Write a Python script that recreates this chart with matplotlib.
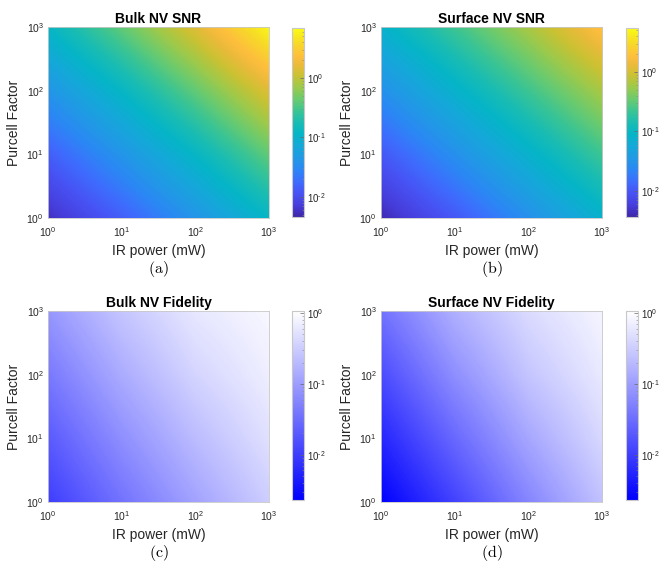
import numpy as np
import matplotlib
matplotlib.use("Agg")
import matplotlib.pyplot as plt
from matplotlib.colors import LinearSegmentedColormap
from matplotlib.ticker import FixedLocator, FixedFormatter

plt.rcParams['font.family'] = ['Liberation Sans', 'DejaVu Sans']
plt.rcParams['mathtext.fontset'] = 'custom'
plt.rcParams['mathtext.rm'] = 'Liberation Sans'
plt.rcParams['mathtext.it'] = 'Liberation Sans:italic'
plt.rcParams['mathtext.bf'] = 'Liberation Sans:bold'

# ---- data (log10 of values at decade grid points) ----
ir_power_exp = [0, 1, 2, 3]          # IR power 10^0 .. 10^3 mW
purcell_exp = [0, 1, 2, 3]           # Purcell factor 10^0 .. 10^3
# rows: Purcell 1,10,100,1000 ; cols: IR power 1,10,100,1000
bulk_snr_log = [[-2.25, -1.85, -1.40, -0.92],
                [-1.85, -1.40, -0.92, -0.40],
                [-1.40, -0.92, -0.40, 0.15],
                [-0.92, -0.40, 0.15, 0.80]]
surface_snr_log = [[-2.40, -2.00, -1.55, -1.10],
                   [-2.00, -1.55, -1.10, -0.65],
                   [-1.55, -1.10, -0.65, -0.20],
                   [-1.10, -0.65, -0.20, 0.30]]
bulk_fid_log = [[-2.00, -1.45, -0.95, -0.50],
                [-1.70, -1.15, -0.68, -0.30],
                [-1.38, -0.85, -0.42, -0.15],
                [-1.07, -0.58, -0.22, -0.05]]
surface_fid_log = [[-2.64, -1.95, -1.25, -0.62],
                   [-2.25, -1.55, -0.90, -0.38],
                   [-1.85, -1.15, -0.58, -0.20],
                   [-1.45, -0.80, -0.35, -0.08]]
cbar_limits = {'a': (-2.34, 0.84), 'b': (-2.44, 0.74), 'c': (-2.64, 0.03), 'd': (-2.64, 0.03)}
titles = ['Bulk NV SNR', 'Surface NV SNR', 'Bulk NV Fidelity', 'Surface NV Fidelity']
panel_labels = ['a', 'b', 'c', 'd']
cbar_ticks = [-2, -1, 0]

parula_anchors = [
    (0.000, (0.2422, 0.1504, 0.6603)),
    (0.060, (0.2760, 0.2400, 0.8600)),
    (0.125, (0.2810, 0.3228, 0.9579)),
    (0.190, (0.2400, 0.4300, 0.9950)),
    (0.250, (0.1700, 0.5300, 0.9600)),
    (0.310, (0.1300, 0.6000, 0.9000)),
    (0.375, (0.0800, 0.6600, 0.8500)),
    (0.440, (0.0200, 0.7100, 0.7800)),
    (0.500, (0.1000, 0.7400, 0.7000)),
    (0.560, (0.2300, 0.7700, 0.5800)),
    (0.625, (0.4200, 0.7950, 0.4300)),
    (0.690, (0.6200, 0.7900, 0.2900)),
    (0.750, (0.7900, 0.7600, 0.2000)),
    (0.810, (0.9300, 0.7300, 0.2300)),
    (0.850, (0.9950, 0.7450, 0.2400)),
    (0.920, (0.9700, 0.8500, 0.1600)),
    (1.000, (0.9769, 0.9839, 0.0805)),
]
parula = LinearSegmentedColormap.from_list('parula', parula_anchors, N=256)
bluewhite = LinearSegmentedColormap.from_list('bw', [(0, 0, 1), (1, 1, 1)], N=256)


def sup_label(k):
    s = str(k).replace('-', '\u2010')
    return r'$10^{%s}$' % s


W, H = 659, 568
fig = plt.figure(figsize=(W / 100, H / 100), dpi=100)

ax_px = {'a': (48, 27), 'b': (381, 27), 'c': (48, 311), 'd': (381, 311)}
cb_px = {'a': (292, 28), 'b': (626, 28), 'c': (292, 311), 'd': (626, 311)}
ax_w, ax_h = 221, 191
cb_w, cb_h = 12, 189

datasets = [bulk_snr_log, surface_snr_log, bulk_fid_log, surface_fid_log]
cmaps = [parula, parula, bluewhite, bluewhite]
edge = '#c8c8c8'

for data, cmap, title, lab in zip(datasets, cmaps, titles, panel_labels):
    x0, y0 = ax_px[lab]
    ax = fig.add_axes([x0 / W, 1 - (y0 + ax_h) / H, ax_w / W, ax_h / H])
    vmin, vmax = cbar_limits[lab]
    arr = np.array(data)
    ext = [ir_power_exp[0] - 0.5, ir_power_exp[-1] + 0.5,
           purcell_exp[0] - 0.5, purcell_exp[-1] + 0.5]
    im = ax.imshow(arr, origin='lower', extent=ext, cmap=cmap, vmin=vmin, vmax=vmax,
                   interpolation='bilinear', interpolation_stage='data', aspect='auto')
    ax.set_xlim(ir_power_exp[0], ir_power_exp[-1])
    ax.set_ylim(purcell_exp[0], purcell_exp[-1])
    ax.xaxis.set_major_locator(FixedLocator(ir_power_exp))
    ax.xaxis.set_major_formatter(FixedFormatter([sup_label(k) for k in ir_power_exp]))
    ax.yaxis.set_major_locator(FixedLocator(purcell_exp))
    ax.yaxis.set_major_formatter(FixedFormatter([sup_label(k) for k in purcell_exp]))
    ax.tick_params(axis='x', length=0, labelsize=7.5, colors='#262626', pad=5)
    ax.tick_params(axis='y', length=0, labelsize=7.5, colors='#262626', pad=3)
    for s in ax.spines.values():
        s.set_color(edge)
        s.set_linewidth(0.6)
    ax.set_xlabel('IR power (mW)', fontsize=10, color='#262626', labelpad=4)
    ax.set_ylabel('Purcell Factor', fontsize=10, color='#262626', labelpad=4)
    ax.set_title(title, fontsize=10, fontweight='bold', pad=3)
    ax.text(0.5, -0.265, r'$(\mathrm{%s})$' % lab, transform=ax.transAxes, ha='center',
            va='center', fontsize=11.5, math_fontfamily='cm')

    cx, cy = cb_px[lab]
    cax = fig.add_axes([cx / W, 1 - (cy + cb_h) / H, cb_w / W, cb_h / H])
    cb = fig.colorbar(im, cax=cax)
    cb.outline.set_edgecolor(edge)
    cb.outline.set_linewidth(0.8)
    cax.yaxis.set_major_locator(FixedLocator(cbar_ticks))
    cax.yaxis.set_major_formatter(FixedFormatter([sup_label(k) for k in cbar_ticks]))
    minors = [k + np.log10(m) for k in range(-3, 1) for m in range(2, 10)
              if vmin <= k + np.log10(m) <= vmax]
    cax.yaxis.set_minor_locator(FixedLocator(minors))
    cax.tick_params(which='major', direction='in', length=3, width=0.5, color='#666666',
                    labelsize=7, labelcolor='#262626', pad=2)
    cax.tick_params(which='minor', direction='in', length=1.8, width=0.4, color='#888888')

fig.savefig('out.png', dpi=100)
